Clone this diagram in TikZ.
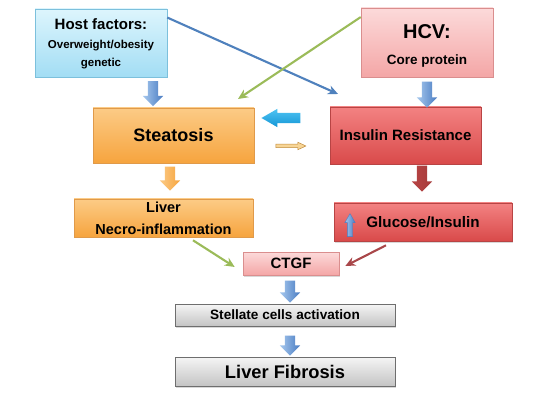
\documentclass[tikz,border=0pt]{standalone}
\usepackage{fontspec}
\setmainfont{Liberation Sans}
\usetikzlibrary{shapes,shapes.arrows,shadows,calc,arrows.meta,positioning}

\definecolor{hostlt}{HTML}{DDF5FD}
\definecolor{hostdk}{HTML}{A2DDF4}
\definecolor{hostln}{HTML}{7CC0DC}
\definecolor{pinklt}{HTML}{FCDADA}
\definecolor{pinkdk}{HTML}{F4A6A6}
\definecolor{pinkln}{HTML}{DA8E8E}
\definecolor{orglt}{HTML}{FCCB86}
\definecolor{orgdk}{HTML}{F6A43E}
\definecolor{orgln}{HTML}{E09A4A}
\definecolor{redlt}{HTML}{F38282}
\definecolor{reddk}{HTML}{D94A4A}
\definecolor{redln}{HTML}{B84444}
\definecolor{greylt}{HTML}{F5F5F5}
\definecolor{greydk}{HTML}{C4C4C4}
\definecolor{greyln}{HTML}{6E6E6E}
\definecolor{blult}{HTML}{A6C8EE}
\definecolor{bludk}{HTML}{4A7CC2}
\definecolor{cyanlt}{HTML}{4FC3F2}
\definecolor{cyandk}{HTML}{1496D6}
\definecolor{tanfill}{HTML}{F7D596}
\definecolor{tanln}{HTML}{C08A3A}
\definecolor{darkred}{HTML}{A63B3B}
\definecolor{lnblue}{HTML}{4F81BD}
\definecolor{lngreen}{HTML}{9BBB59}
\definecolor{lnred}{HTML}{A9474A}

\tikzset{
	box/.style={rectangle, line width=.6pt, align=center, font=\bfseries, inner sep=2pt, drop shadow={opacity=.3,shadow xshift=1.2pt,shadow yshift=-1.5pt}},
	hostbox/.style={box, draw=hostln, top color=hostlt, bottom color=hostdk},
	pinkbox/.style={box, draw=pinkln, top color=pinklt, bottom color=pinkdk},
	orgbox/.style={box, draw=orgln, top color=orglt, bottom color=orgdk},
	redbox/.style={box, draw=redln, top color=redlt, bottom color=reddk},
	greybox/.style={box, draw=greyln, top color=greylt, bottom color=greydk},
	fatarrow/.style={single arrow, inner sep=5pt, single arrow head extend=5pt, single arrow tip angle=90, draw=none},
	bluedown/.style={fatarrow, shape border rotate=270, left color=blult, right color=bludk},
	diredge/.style={-{Stealth[length=10pt,width=9pt]}, line width=2.1pt}
}

\begin{document}
\begin{tikzpicture}[x=1pt,y=-1pt]
	\useasboundingbox (0,0) rectangle (550,412);
	\fill[white] (0,0) rectangle (550,412);

	%%top row: host factors and HCV
	\node[hostbox, minimum width=132pt, minimum height=68pt, font=\bfseries\fontsize{11.5}{18}\selectfont] (host) at (101,43) {\rule{0pt}{13pt}{\fontsize{15}{18}\selectfont Host factors:}\\[1pt] Overweight/obesity\\ genetic};
	\node[pinkbox, minimum width=132pt, minimum height=69pt, font=\bfseries\fontsize{13.5}{26}\selectfont] (hcv) at (427,42.5) {\rule{0pt}{21.5pt}{\fontsize{20}{24}\selectfont HCV:}\\ Core protein};

	%%second row
	\node[orgbox, minimum width=161pt, minimum height=55pt, font=\bfseries\fontsize{18}{22}\selectfont] (steat) at (173.5,135.5) {Steatosis};
	\node[redbox, minimum width=151pt, minimum height=57pt, font=\bfseries\fontsize{15}{18}\selectfont] (ir) at (405.5,135.5) {Insulin Resistance};

	%%third row
	\node[orgbox, minimum width=179pt, minimum height=38pt, font=\bfseries\fontsize{14.5}{22}\selectfont] (necro) at (163.5,218) {Liver\\ Necro-inflammation};
	\node[redbox, minimum width=178pt, minimum height=38pt, font=\bfseries\fontsize{15.2}{18}\selectfont] (gluc) at (423,222) {Glucose/Insulin};
	\node[fatarrow, shape border rotate=90, inner sep=2.5pt, single arrow head extend=2.5pt, single arrow tip angle=60, minimum height=23pt, left color=blult, right color=bludk, draw=bludk, line width=.4pt] (aup) at (350,227.5) {};

	%%bottom column
	\node[pinkbox, minimum width=96pt, minimum height=23pt, font=\bfseries\fontsize{15}{18}\selectfont] (ctgf) at (291,263.5) {CTGF};
	\node[greybox, minimum width=220pt, minimum height=22pt, font=\bfseries\fontsize{13.6}{16}\selectfont] (stell) at (285,315) {Stellate cells activation};
	\node[greybox, minimum width=220pt, minimum height=29pt, font=\bfseries\fontsize{18.3}{22}\selectfont] (fib) at (285,371.5) {Liver Fibrosis};

	%%block arrows
	\node[bluedown, minimum height=25pt] (ahost) at (153,91) {};
	\node[bluedown, minimum height=26pt] (ahcv) at (427,92) {};
	\node[fatarrow, shape border rotate=180, single arrow head extend=4pt, single arrow tip angle=60, minimum height=39pt, top color=cyanlt, bottom color=cyandk] (aleft) at (285.5,118) {};
	\node[fatarrow, shape border rotate=0, inner sep=1.5pt, single arrow head extend=2pt, single arrow tip angle=50, minimum height=30pt, fill=tanfill, draw=tanln, line width=.5pt] (aright) at (289,146) {};
	\node[fatarrow, shape border rotate=270, minimum height=24pt, left color=orglt, right color=orgdk] (asteat) at (170,176) {};
	\node[fatarrow, shape border rotate=270, minimum height=26pt, left color=redln, right color=darkred] (air) at (422,176) {};
	\node[bluedown, minimum height=22pt] (actgf) at (290,289) {};
	\node[bluedown, minimum height=20pt] (astell) at (290,343) {};

	%%line arrows
	\coordinate (irtip) at (338,94);
	\coordinate (steattip) at (238,99);
	\draw[diredge, lnblue] (host.21) -- (irtip);
	\draw[diredge, lngreen] (hcv.159) -- (steattip);
	\draw[diredge, lngreen] ($(necro.south)+(29.5,3)$) -- ($(ctgf.west)+(-8,3.5)$);
	\draw[diredge, lnred] ($(gluc.south)+(-37,4)$) -- ($(ctgf.east)+(6,2.5)$);
\end{tikzpicture}
\end{document}
